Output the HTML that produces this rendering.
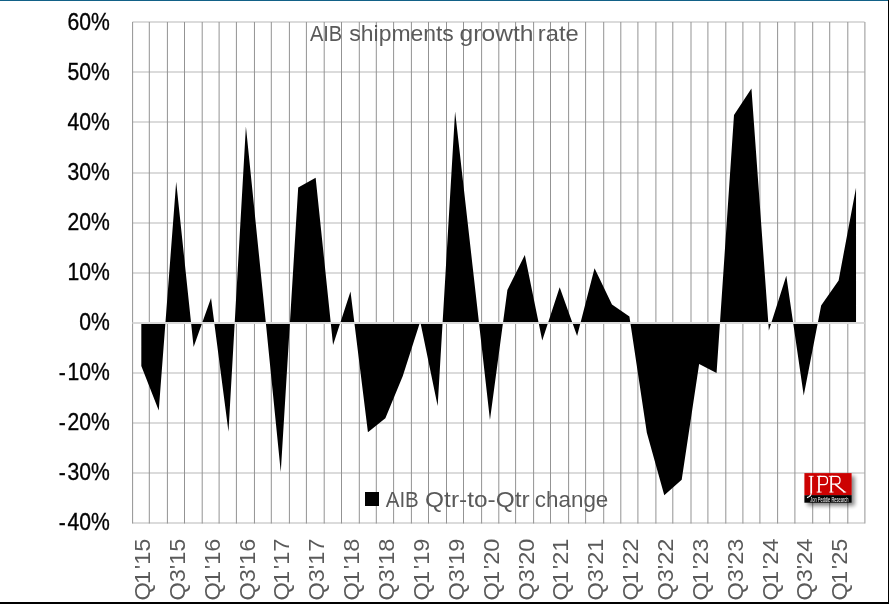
<!DOCTYPE html>
<html><head><meta charset="utf-8"><title>AIB shipments growth rate</title>
<style>html,body{margin:0;padding:0;background:#fff;overflow:hidden;}svg{display:block;}</style>
</head><body>
<svg width="889" height="604" viewBox="0 0 889 604"><rect x="0" y="0" width="889" height="604" fill="#ffffff"/><rect x="132.45" y="21" width="732.14" height="2" fill="#dbdbdb"/><rect x="132.45" y="71" width="732.14" height="2" fill="#dbdbdb"/><rect x="132.45" y="121" width="732.14" height="2" fill="#dbdbdb"/><rect x="132.45" y="172" width="732.14" height="2" fill="#dbdbdb"/><rect x="132.45" y="222" width="732.14" height="2" fill="#dbdbdb"/><rect x="132.45" y="272" width="732.14" height="2" fill="#dbdbdb"/><rect x="132.45" y="372" width="732.14" height="2" fill="#dbdbdb"/><rect x="132.45" y="422" width="732.14" height="2" fill="#dbdbdb"/><rect x="132.45" y="472" width="732.14" height="2" fill="#dbdbdb"/><rect x="132.45" y="522" width="732.14" height="2" fill="#dbdbdb"/><rect x="132.10" y="22" width="1" height="501.5" fill="#939393"/><rect x="148.80" y="22" width="1" height="501.5" fill="#939393"/><rect x="166.90" y="22" width="1" height="501.5" fill="#939393"/><rect x="184.00" y="22" width="1" height="501.5" fill="#939393"/><rect x="201.70" y="22" width="1" height="501.5" fill="#939393"/><rect x="218.60" y="22" width="1" height="501.5" fill="#939393"/><rect x="235.90" y="22" width="1" height="501.5" fill="#939393"/><rect x="253.95" y="22" width="1" height="501.5" fill="#939393"/><rect x="270.80" y="22" width="1" height="501.5" fill="#939393"/><rect x="288.90" y="22" width="1" height="501.5" fill="#939393"/><rect x="305.90" y="22" width="1" height="501.5" fill="#939393"/><rect x="323.70" y="22" width="1" height="501.5" fill="#939393"/><rect x="341.00" y="22" width="1" height="501.5" fill="#939393"/><rect x="358.80" y="22" width="1" height="501.5" fill="#939393"/><rect x="375.80" y="22" width="1" height="501.5" fill="#939393"/><rect x="393.10" y="22" width="1" height="501.5" fill="#939393"/><rect x="410.90" y="22" width="1" height="501.5" fill="#939393"/><rect x="428.00" y="22" width="1" height="501.5" fill="#939393"/><rect x="446.00" y="22" width="1" height="501.5" fill="#939393"/><rect x="463.00" y="22" width="1" height="501.5" fill="#939393"/><rect x="481.10" y="22" width="1" height="501.5" fill="#939393"/><rect x="498.30" y="22" width="1" height="501.5" fill="#939393"/><rect x="515.10" y="22" width="1" height="501.5" fill="#939393"/><rect x="533.10" y="22" width="1" height="501.5" fill="#939393"/><rect x="550.00" y="22" width="1" height="501.5" fill="#939393"/><rect x="568.10" y="22" width="1" height="501.5" fill="#939393"/><rect x="585.10" y="22" width="1" height="501.5" fill="#939393"/><rect x="603.20" y="22" width="1" height="501.5" fill="#939393"/><rect x="620.30" y="22" width="1" height="501.5" fill="#939393"/><rect x="637.40" y="22" width="1" height="501.5" fill="#939393"/><rect x="655.40" y="22" width="1" height="501.5" fill="#939393"/><rect x="672.30" y="22" width="1" height="501.5" fill="#939393"/><rect x="690.50" y="22" width="1" height="501.5" fill="#939393"/><rect x="707.40" y="22" width="1" height="501.5" fill="#939393"/><rect x="725.30" y="22" width="1" height="501.5" fill="#939393"/><rect x="742.40" y="22" width="1" height="501.5" fill="#939393"/><rect x="759.40" y="22" width="1" height="501.5" fill="#939393"/><rect x="777.10" y="22" width="1" height="501.5" fill="#939393"/><rect x="794.40" y="22" width="1" height="501.5" fill="#939393"/><rect x="812.20" y="22" width="1" height="501.5" fill="#939393"/><rect x="829.20" y="22" width="1" height="501.5" fill="#939393"/><rect x="847.30" y="22" width="1" height="501.5" fill="#939393"/><rect x="864.40" y="22" width="1" height="501.5" fill="#939393"/><polygon points="141.32,323.00 141.32,366.09 158.75,410.42 176.18,181.72 193.61,347.05 211.04,297.95 228.48,431.72 245.91,126.61 263.34,297.95 280.77,472.05 298.20,187.48 315.64,177.71 333.07,345.04 350.50,291.44 367.93,432.22 385.36,418.19 402.80,376.11 420.23,321.50 437.66,405.92 455.09,111.58 472.52,265.38 489.96,419.94 507.39,289.93 524.82,255.11 542.25,340.54 559.68,287.18 577.12,336.03 594.55,268.14 611.98,304.46 629.41,316.49 646.84,432.72 664.28,495.34 681.71,479.81 699.14,364.08 716.57,373.10 734.00,115.09 751.44,88.53 768.87,330.51 786.30,275.66 803.73,395.39 821.16,305.46 838.60,280.42 856.03,187.73 856.03,323.00" fill="#000"/><rect x="132.45" y="322" width="732.14" height="2" fill="#d9d9d9"/><g opacity="0.995"><text transform="translate(109.8,30) scale(0.92,1)" font-family="Liberation Sans, sans-serif" font-size="23.0" text-anchor="end" fill="#000" stroke="#000" stroke-width="0.35">60%</text><text transform="translate(109.8,80) scale(0.92,1)" font-family="Liberation Sans, sans-serif" font-size="23.0" text-anchor="end" fill="#000" stroke="#000" stroke-width="0.35">50%</text><text transform="translate(109.8,130) scale(0.92,1)" font-family="Liberation Sans, sans-serif" font-size="23.0" text-anchor="end" fill="#000" stroke="#000" stroke-width="0.35">40%</text><text transform="translate(109.8,180) scale(0.92,1)" font-family="Liberation Sans, sans-serif" font-size="23.0" text-anchor="end" fill="#000" stroke="#000" stroke-width="0.35">30%</text><text transform="translate(109.8,230) scale(0.92,1)" font-family="Liberation Sans, sans-serif" font-size="23.0" text-anchor="end" fill="#000" stroke="#000" stroke-width="0.35">20%</text><text transform="translate(109.8,280) scale(0.92,1)" font-family="Liberation Sans, sans-serif" font-size="23.0" text-anchor="end" fill="#000" stroke="#000" stroke-width="0.35">10%</text><text transform="translate(109.8,330) scale(0.92,1)" font-family="Liberation Sans, sans-serif" font-size="23.0" text-anchor="end" fill="#000" stroke="#000" stroke-width="0.35">0%</text><text transform="translate(109.8,380) scale(0.92,1)" font-family="Liberation Sans, sans-serif" font-size="23.0" text-anchor="end" fill="#000" stroke="#000" stroke-width="0.35">-<tspan dx="1.7">10%</tspan></text><text transform="translate(109.8,430) scale(0.92,1)" font-family="Liberation Sans, sans-serif" font-size="23.0" text-anchor="end" fill="#000" stroke="#000" stroke-width="0.35">-<tspan dx="1.7">20%</tspan></text><text transform="translate(109.8,480) scale(0.92,1)" font-family="Liberation Sans, sans-serif" font-size="23.0" text-anchor="end" fill="#000" stroke="#000" stroke-width="0.35">-<tspan dx="1.7">30%</tspan></text><text transform="translate(109.8,530) scale(0.92,1)" font-family="Liberation Sans, sans-serif" font-size="23.0" text-anchor="end" fill="#000" stroke="#000" stroke-width="0.35">-<tspan dx="1.7">40%</tspan></text><text transform="translate(150.02,538.6) rotate(-90) scale(1.041,1)" font-family="Liberation Sans, sans-serif" font-size="22.6" text-anchor="end" fill="#595959">Q<tspan dx="-1.6">1</tspan><tspan dx="1.6">&#39;15</tspan></text><text transform="translate(184.88,538.6) rotate(-90) scale(1.041,1)" font-family="Liberation Sans, sans-serif" font-size="22.6" text-anchor="end" fill="#595959">Q3&#39;15</text><text transform="translate(219.74,538.6) rotate(-90) scale(1.041,1)" font-family="Liberation Sans, sans-serif" font-size="22.6" text-anchor="end" fill="#595959">Q<tspan dx="-1.6">1</tspan><tspan dx="1.6">&#39;16</tspan></text><text transform="translate(254.61,538.6) rotate(-90) scale(1.041,1)" font-family="Liberation Sans, sans-serif" font-size="22.6" text-anchor="end" fill="#595959">Q3&#39;16</text><text transform="translate(289.47,538.6) rotate(-90) scale(1.041,1)" font-family="Liberation Sans, sans-serif" font-size="22.6" text-anchor="end" fill="#595959">Q<tspan dx="-1.6">1</tspan><tspan dx="1.6">&#39;17</tspan></text><text transform="translate(324.34,538.6) rotate(-90) scale(1.041,1)" font-family="Liberation Sans, sans-serif" font-size="22.6" text-anchor="end" fill="#595959">Q3&#39;17</text><text transform="translate(359.20,538.6) rotate(-90) scale(1.041,1)" font-family="Liberation Sans, sans-serif" font-size="22.6" text-anchor="end" fill="#595959">Q<tspan dx="-1.6">1</tspan><tspan dx="1.6">&#39;18</tspan></text><text transform="translate(394.06,538.6) rotate(-90) scale(1.041,1)" font-family="Liberation Sans, sans-serif" font-size="22.6" text-anchor="end" fill="#595959">Q3&#39;18</text><text transform="translate(428.93,538.6) rotate(-90) scale(1.041,1)" font-family="Liberation Sans, sans-serif" font-size="22.6" text-anchor="end" fill="#595959">Q<tspan dx="-1.6">1</tspan><tspan dx="1.6">&#39;19</tspan></text><text transform="translate(463.79,538.6) rotate(-90) scale(1.041,1)" font-family="Liberation Sans, sans-serif" font-size="22.6" text-anchor="end" fill="#595959">Q3&#39;19</text><text transform="translate(498.66,538.6) rotate(-90) scale(1.041,1)" font-family="Liberation Sans, sans-serif" font-size="22.6" text-anchor="end" fill="#595959">Q<tspan dx="-1.6">1</tspan><tspan dx="1.6">&#39;20</tspan></text><text transform="translate(533.52,538.6) rotate(-90) scale(1.041,1)" font-family="Liberation Sans, sans-serif" font-size="22.6" text-anchor="end" fill="#595959">Q3&#39;20</text><text transform="translate(568.38,538.6) rotate(-90) scale(1.041,1)" font-family="Liberation Sans, sans-serif" font-size="22.6" text-anchor="end" fill="#595959">Q<tspan dx="-1.6">1</tspan><tspan dx="1.6">&#39;21</tspan></text><text transform="translate(603.25,538.6) rotate(-90) scale(1.041,1)" font-family="Liberation Sans, sans-serif" font-size="22.6" text-anchor="end" fill="#595959">Q3&#39;21</text><text transform="translate(638.11,538.6) rotate(-90) scale(1.041,1)" font-family="Liberation Sans, sans-serif" font-size="22.6" text-anchor="end" fill="#595959">Q<tspan dx="-1.6">1</tspan><tspan dx="1.6">&#39;22</tspan></text><text transform="translate(672.98,538.6) rotate(-90) scale(1.041,1)" font-family="Liberation Sans, sans-serif" font-size="22.6" text-anchor="end" fill="#595959">Q3&#39;22</text><text transform="translate(707.84,538.6) rotate(-90) scale(1.041,1)" font-family="Liberation Sans, sans-serif" font-size="22.6" text-anchor="end" fill="#595959">Q<tspan dx="-1.6">1</tspan><tspan dx="1.6">&#39;23</tspan></text><text transform="translate(742.70,538.6) rotate(-90) scale(1.041,1)" font-family="Liberation Sans, sans-serif" font-size="22.6" text-anchor="end" fill="#595959">Q3&#39;23</text><text transform="translate(777.57,538.6) rotate(-90) scale(1.041,1)" font-family="Liberation Sans, sans-serif" font-size="22.6" text-anchor="end" fill="#595959">Q<tspan dx="-1.6">1</tspan><tspan dx="1.6">&#39;24</tspan></text><text transform="translate(812.43,538.6) rotate(-90) scale(1.041,1)" font-family="Liberation Sans, sans-serif" font-size="22.6" text-anchor="end" fill="#595959">Q3&#39;24</text><text transform="translate(847.30,538.6) rotate(-90) scale(1.041,1)" font-family="Liberation Sans, sans-serif" font-size="22.6" text-anchor="end" fill="#595959">Q<tspan dx="-1.6">1</tspan><tspan dx="1.6">&#39;25</tspan></text><text x="309.9" y="41" font-family="Liberation Sans, sans-serif" font-size="22.8" fill="#595959" textLength="32.3" lengthAdjust="spacingAndGlyphs">AIB</text><text x="349.35" y="41" font-family="Liberation Sans, sans-serif" font-size="22.8" fill="#595959" textLength="104.47" lengthAdjust="spacingAndGlyphs">shipments</text><text x="459.62" y="41" font-family="Liberation Sans, sans-serif" font-size="22.8" fill="#595959" textLength="73.93" lengthAdjust="spacingAndGlyphs">growth</text><text x="537.84" y="41" font-family="Liberation Sans, sans-serif" font-size="22.8" fill="#595959" textLength="40.85" lengthAdjust="spacingAndGlyphs">rate</text><rect x="365" y="492" width="14" height="14" fill="#000"/><text x="385.7" y="507" font-family="Liberation Sans, sans-serif" font-size="22.8" fill="#595959" textLength="33.13" lengthAdjust="spacingAndGlyphs">AIB</text><text x="425.13" y="507" font-family="Liberation Sans, sans-serif" font-size="22.8" fill="#595959" textLength="104.46" lengthAdjust="spacingAndGlyphs">Qtr-to-Qtr</text><text x="534.82" y="507" font-family="Liberation Sans, sans-serif" font-size="22.8" fill="#595959" textLength="73.51" lengthAdjust="spacingAndGlyphs">change</text><defs><filter id="sh" x="-30%" y="-30%" width="180%" height="180%"><feGaussianBlur in="SourceAlpha" stdDeviation="2"/><feOffset dx="3" dy="3"/><feComponentTransfer><feFuncA type="linear" slope="0.5"/></feComponentTransfer><feMerge><feMergeNode/><feMergeNode in="SourceGraphic"/></feMerge></filter></defs><g filter="url(#sh)"><rect x="804.4" y="473.1" width="47.2" height="22.1" fill="#cc0000"/><rect x="804.4" y="495.2" width="47.2" height="7.5" fill="#000"/></g><g fill="none" stroke="#fff" stroke-linecap="butt"><path d="M808.7,476.3H813.6M816.9,476.3H821.1M816.7,492.1H821.6M828.8,476.3H833M829.3,492.1H833.5M843.3,492.1H846.2" stroke-width="0.9"/><path d="M811.2,476V493.6M819,476V492.2M831.2,476V492.2" stroke-width="1.75"/><path d="M811.3,493.2Q811,496.2 807,497.6" stroke-width="1.2"/><path d="M819,476.4H824.3C828.6,476.4 828.6,484.7 824.3,484.7H819.5" stroke-width="1.25"/><path d="M831.2,476.4H836.6C841.2,476.4 841.2,484.2 836.6,484.2H831.6" stroke-width="1.25"/><path d="M835,484.2L844.6,492.1" stroke-width="1.6"/></g><text x="810.3" y="501.6" font-family="Liberation Sans, sans-serif" font-size="6.6" fill="#ffffff" textLength="38.2" lengthAdjust="spacingAndGlyphs">Jon Peddie Research</text></g><rect x="0" y="0" width="889" height="1" fill="#126187"/><rect x="888" y="0" width="1" height="604" fill="#000"/><rect x="0" y="602" width="889" height="2" fill="#000"/></svg>
</body></html>
